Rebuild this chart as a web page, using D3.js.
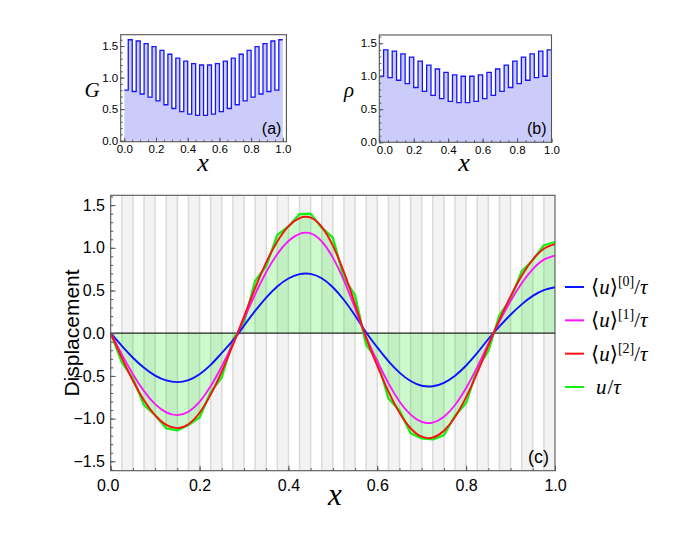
<!DOCTYPE html>
<html>
<head>
<meta charset="utf-8">
<script src="https://cdn.jsdelivr.net/npm/d3@7"></script>
<style>
  body { margin: 0; background: #fff; }
  svg { display: block; }
</style>
</head>
<body>
<svg id="fig" width="681" height="541"></svg>
<script>
// layered medium: 20 cells, each a soft layer then a stiff layer
const gLow    = [0.80, 0.78, 0.74, 0.69, 0.63, 0.57, 0.51, 0.46, 0.42, 0.40, 0.40, 0.42, 0.46, 0.51, 0.57, 0.63, 0.69, 0.74, 0.78, 0.80];
const gHigh   = [1.60, 1.58, 1.54, 1.49, 1.43, 1.37, 1.31, 1.26, 1.22, 1.20, 1.20, 1.22, 1.26, 1.31, 1.37, 1.43, 1.49, 1.54, 1.58, 1.60];
const rhoLow  = [1.00, 0.98, 0.94, 0.89, 0.83, 0.77, 0.71, 0.66, 0.62, 0.60, 0.60, 0.62, 0.66, 0.71, 0.77, 0.83, 0.89, 0.94, 0.98, 1.00];
const rhoHigh = [1.40, 1.38, 1.34, 1.29, 1.23, 1.17, 1.11, 1.06, 1.02, 1.00, 1.00, 1.02, 1.06, 1.11, 1.17, 1.23, 1.29, 1.34, 1.38, 1.40];

// displacement samples at x = 0, 0.025, ..., 1
const xs = d3.range(41).map(i => i / 40);
const u0 = [0, -0.148, -0.287, -0.405, -0.496, -0.553, -0.573, -0.549, -0.480, -0.371, -0.231, -0.085, 0.087, 0.261, 0.418, 0.548, 0.641, 0.692, 0.695, 0.643, 0.538, 0.389, 0.207, 0.008, -0.166, -0.327, -0.461, -0.560, -0.615, -0.621, -0.581, -0.498, -0.378, -0.231, -0.068, 0.080, 0.216, 0.338, 0.437, 0.505, 0.538];
const u1 = [0, -0.248, -0.480, -0.678, -0.831, -0.926, -0.959, -0.919, -0.803, -0.621, -0.387, -0.122, 0.167, 0.456, 0.715, 0.928, 1.080, 1.163, 1.169, 1.075, 0.885, 0.617, 0.293, -0.046, -0.328, -0.585, -0.799, -0.954, -1.039, -1.047, -0.979, -0.841, -0.642, -0.398, -0.124, 0.138, 0.376, 0.585, 0.751, 0.862, 0.909];
const u2 = [0, -0.288, -0.556, -0.786, -0.962, -1.073, -1.111, -1.065, -0.931, -0.719, -0.449, -0.141, 0.194, 0.528, 0.829, 1.075, 1.252, 1.348, 1.354, 1.246, 1.026, 0.715, 0.340, -0.054, -0.382, -0.682, -0.932, -1.113, -1.212, -1.221, -1.142, -0.981, -0.749, -0.464, -0.145, 0.159, 0.432, 0.672, 0.863, 0.990, 1.044];
const uExact = [0, -0.342, -0.528, -0.841, -0.961, -1.113, -1.139, -1.075, -0.987, -0.690, -0.519, -0.079, 0.126, 0.612, 0.787, 1.152, 1.250, 1.395, 1.400, 1.236, 1.119, 0.646, 0.446, -0.137, -0.316, -0.764, -0.906, -1.172, -1.231, -1.244, -1.195, -0.967, -0.817, -0.420, -0.207, 0.212, 0.398, 0.726, 0.858, 1.030, 1.068];

const legendOrders = ["[0]", "[1]", "[2]", null];

const xMajor = [0, 0.2, 0.4, 0.6, 0.8, 1.0];
const xMinor = d3.range(21).map(i => i / 20);
const yMajorTop = [0, 0.5, 1.0, 1.5];
const yMinorTop = d3.range(17).map(i => i / 10);
const yMajorMain = [-1.5, -1.0, -0.5, 0, 0.5, 1.0, 1.5];
const yMinorMain = d3.range(-16, 17).map(i => i / 10);

const sans = "'Liberation Sans', Arial, Helvetica, sans-serif";
const serif = "'Liberation Serif', 'Times New Roman', 'DejaVu Serif', serif";
const fmt = d3.format(".1f");
const svg = d3.select("#fig");

// frame + inward ticks using d3 axes
function frame(g, x, y, o) {
    const [x0, x1] = x.range();
    const [yb, yt] = y.range();
    const strip = s => s.call(a => a.select(".domain").remove())
        .attr("font-family", sans).attr("font-size", o.fs)
        .call(a => a.selectAll("line").attr("stroke", "#555"));

    g.append("g").attr("transform", `translate(0,${yb})`)
        .call(d3.axisBottom(x).tickValues(xMinor).tickSize(-o.minLen).tickFormat(""))
        .call(strip);
    const bx = g.append("g").attr("transform", `translate(0,${yb})`)
        .call(d3.axisBottom(x).tickValues(xMajor).tickSize(-o.majLen).tickPadding(o.xPad).tickFormat(fmt))
        .call(strip);
    // nudge the first x label away from the corner
    bx.selectAll("text").filter(d => d === 0).attr("dx", o.firstShift || 0);
    g.append("g").attr("transform", `translate(${x0},0)`)
        .call(d3.axisLeft(y).tickValues(o.yMinor).tickSize(-o.minLen).tickFormat(""))
        .call(strip);
    g.append("g").attr("transform", `translate(${x0},0)`)
        .call(d3.axisLeft(y).tickValues(o.yMajor).tickSize(-o.majLen).tickPadding(o.yPad).tickFormat(fmt))
        .call(strip);
    g.selectAll("text").attr("fill", "#000");

    g.append("rect")
        .attr("x", x0).attr("y", yt)
        .attr("width", x1 - x0).attr("height", yb - yt)
        .attr("fill", "none").attr("stroke", "#555").attr("stroke-width", 1.1);
}

// small step plot for a material property
function stepPanel(low, high, x, y, tag, sym, symX, shift, labX) {
    const g = svg.append("g");
    const pts = [];
    low.forEach((v, k) => {
        pts.push({ x: k / 20, v: v });
        pts.push({ x: k / 20 + 1 / 40, v: high[k] });
    });
    pts.push({ x: 1, v: high[high.length - 1] });

    g.append("path").datum(pts)
        .attr("d", d3.area().curve(d3.curveStepAfter).x(d => x(d.x)).y0(y(0)).y1(d => y(d.v)))
        .attr("fill", "#ccccfb");
    g.append("path").datum(pts)
        .attr("d", d3.line().curve(d3.curveStepAfter).x(d => x(d.x)).y(d => y(d.v)))
        .attr("fill", "none").attr("stroke", "#1414ff").attr("stroke-width", 1.3);

    frame(g, x, y, { fs: 11.5, majLen: 4, minLen: 2, xPad: 3.4, yPad: 2.5, yMajor: yMajorTop, yMinor: yMinorTop, firstShift: shift });

    const x1 = x.range()[1];
    g.append("text").attr("x", x1 - 5).attr("y", 134)
        .attr("text-anchor", "end").attr("font-family", sans).attr("font-size", 16)
        .text(tag);
    g.append("text").attr("x", labX).attr("y", 171)
        .attr("text-anchor", "middle").attr("font-family", serif).attr("font-style", "italic")
        .attr("font-size", 26).text("x");
    g.append("text").attr("x", symX).attr("y", 97)
        .attr("text-anchor", "middle").attr("font-family", serif).attr("font-style", "italic")
        .attr("font-size", 21).text(sym);
}

const xa = d3.scaleLinear().domain([-0.0227, 1.0227]).range([120.7, 286.4]);
const ya = d3.scaleLinear().domain([-0.016, 1.68]).range([141.7, 34.7]);
stepPanel(gLow, gHigh, xa, ya, "(a)", "G", 92, 0, 203);

const xb = d3.scaleLinear().domain([0, 1]).range([379.3, 551.5]);
const yb = d3.scaleLinear().domain([0, 1.625]).range([142.3, 35]);
stepPanel(rhoLow, rhoHigh, xb, yb, "(b)", "\u03C1", 349, 5, 464);

// main panel
const mx = d3.scaleLinear().domain([0, 1]).range([110.7, 555]);
const my = d3.scaleLinear().domain([-1.61, 1.615]).range([470.7, 195.3]);
const main = svg.append("g");
const plotTop = my.range()[1], plotBot = my.range()[0];

main.selectAll("rect.band").data(d3.range(40)).join("rect")
    .attr("class", "band")
    .attr("x", i => mx(xs[i])).attr("width", i => mx(xs[i + 1]) - mx(xs[i]))
    .attr("y", plotTop).attr("height", plotBot - plotTop)
    .attr("fill", i => i % 2 ? "#f3f3f3" : "#ffffff");
main.selectAll("line.sep").data(xs.slice(1, -1)).join("line")
    .attr("class", "sep")
    .attr("x1", d => mx(d)).attr("x2", d => mx(d))
    .attr("y1", plotTop).attr("y2", plotBot)
    .attr("stroke", "#dadada").attr("stroke-width", 1.5);

const exactPts = xs.map((x, i) => ({ x: x, v: uExact[i] }));
main.append("path").datum(exactPts)
    .attr("d", d3.area().x(d => mx(d.x)).y0(my(0)).y1(d => my(d.v)))
    .attr("fill", "#00e600").attr("fill-opacity", 0.2);

main.append("line")
    .attr("x1", mx(0)).attr("x2", mx(1)).attr("y1", my(0)).attr("y2", my(0))
    .attr("stroke", "#222").attr("stroke-width", 1.2);

const colors = ["#0a14ff", "#ff14ff", "#ff1010", "#14f014"];
main.append("path").datum(exactPts)
    .attr("d", d3.line().x(d => mx(d.x)).y(d => my(d.v)))
    .attr("fill", "none").attr("stroke", colors[3]).attr("stroke-width", 2.3)
    .attr("stroke-linejoin", "round");

const smooth = d3.line().curve(d3.curveNatural).x(d => mx(d.x)).y(d => my(d.v));
[u0, u1, u2].forEach((s, k) => {
    main.append("path").datum(xs.map((x, i) => ({ x: x, v: s[i] })))
        .attr("d", smooth)
        .attr("fill", "none").attr("stroke", colors[k]).attr("stroke-width", 1.9);
});

frame(main, mx, my, { fs: 16, majLen: 5, minLen: 2.5, xPad: 9.4, yPad: 5.7, yMajor: yMajorMain, yMinor: yMinorMain, firstShift: -3 });

main.append("text").attr("x", 549).attr("y", 463)
    .attr("text-anchor", "end").attr("font-family", sans).attr("font-size", 18).text("(c)");
main.append("text").attr("transform", "translate(79,333) rotate(-90)")
    .attr("text-anchor", "middle").attr("font-family", sans).attr("font-size", 21)
    .text("Displacement");
main.append("text").attr("x", 335).attr("y", 505)
    .attr("text-anchor", "middle").attr("font-family", serif).attr("font-style", "italic")
    .attr("font-size", 31).text("x");

// legend
const leg = svg.append("g");
const rowY = d3.scalePoint().domain(d3.range(4)).range([287, 387]);
legendOrders.forEach((ord, k) => {
    const yy = rowY(k);
    leg.append("line").attr("x1", 565).attr("x2", 584).attr("y1", yy).attr("y2", yy)
        .attr("stroke", colors[k]).attr("stroke-width", 2);
    const t = leg.append("text").attr("x", ord ? 591 : 596).attr("y", yy + 7)
        .attr("font-family", serif).attr("font-size", 21);
    if (ord) {
        t.append("tspan").text("\u27E8");
        t.append("tspan").attr("font-style", "italic").text("u");
        t.append("tspan").text("\u27E9");
        t.append("tspan").attr("font-size", 14).attr("dy", -8).text(ord);
        t.append("tspan").attr("dy", 8).text("/");
    } else {
        t.append("tspan").attr("font-style", "italic").text("u");
        t.append("tspan").attr("dx", 1).text("/");
    }
    t.append("tspan").attr("font-style", "italic").text("\u03C4");
});
</script>
</body>
</html>
